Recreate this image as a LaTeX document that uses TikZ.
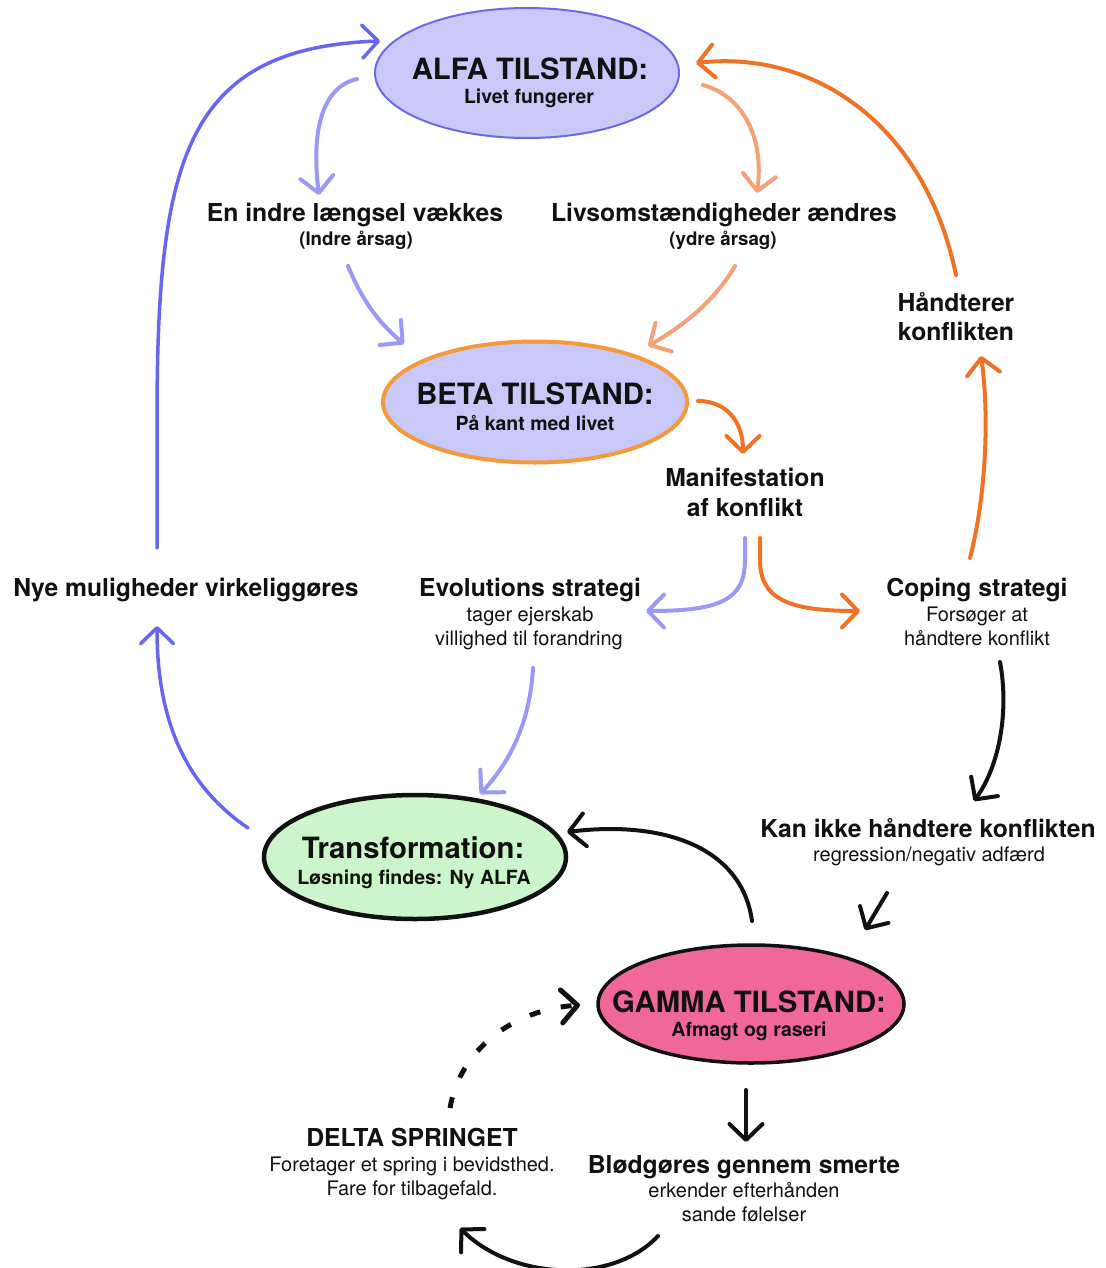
\documentclass[tikz,border=0pt]{standalone}
\usepackage{fontspec}
\setmainfont{TeX Gyre Heros}
\usetikzlibrary{arrows.meta,shapes.geometric}
\definecolor{lav}{HTML}{C9C9F9}
\definecolor{alfaB}{HTML}{6A6AE6}
\definecolor{bigblue}{HTML}{6666EE}
\definecolor{lightblue}{HTML}{9A9AF6}
\definecolor{salmon}{HTML}{F6A078}
\definecolor{orng}{HTML}{F07224}
\definecolor{betaB}{HTML}{F29A3C}
\definecolor{greenF}{HTML}{CDF5CB}
\definecolor{pinkF}{HTML}{F0689A}
\definecolor{ink}{HTML}{111111}
\begin{document}
\begin{tikzpicture}[x=1pt,y=-1pt,
  ttl/.style={font=\fontsize{29.3}{32}\selectfont\bfseries, anchor=base, inner sep=0pt, text=ink},
  bsub/.style={font=\fontsize{19.5}{22}\selectfont\bfseries, anchor=base, inner sep=0pt, text=ink},
  hd/.style={font=\fontsize{24.7}{28}\selectfont\bfseries, anchor=base, inner sep=0pt, text=ink},
  sub/.style={font=\fontsize{20}{24}\selectfont, anchor=base, inner sep=0pt, text=ink},
  state/.style={ellipse, inner sep=0pt},
  arr/.style={line width=4pt, line cap=round, -{Straight Barb[length=16pt,width=33pt,round]}},
]
\useasboundingbox (0,0) rectangle (1105,1268);

% ---- states
\node[state, draw=alfaB, fill=lav, line width=2pt, minimum width=304pt, minimum height=130pt] (alfa) at (527,73) {};
\node[ttl] (alfat) at (530,80) {ALFA TILSTAND:};
\node[bsub] (alfas) at (529,104) {Livet fungerer};

\node[state, draw=betaB, fill=lav, line width=4pt, minimum width=304pt, minimum height=121pt] (beta) at (535,402) {};
\node[ttl] (betat) at (535,404) {BETA TILSTAND:};
\node[bsub] (betas) at (535,430) {På kant med livet};

\node[state, draw=ink, fill=greenF, line width=4.5pt, minimum width=302pt, minimum height=124pt] (trans) at (415,857) {};
\node[ttl] (transt) at (413,858) {Transformation:};
\node[bsub] (transs) at (414,884) {Løsning findes: Ny ALFA};

\node[state, draw=ink, fill=pinkF, line width=3.5pt, minimum width=306pt, minimum height=118pt] (gamma) at (751,1004) {};
\node[ttl] (gammat) at (749,1012) {GAMMA TILSTAND:};
\node[bsub] (gammas) at (749,1036) {Afmagt og raseri};

% ---- labels
\node[hd] (indre) at (355,221) {En indre længsel vækkes};
\node[bsub,font=\fontsize{18.7}{22}\selectfont\bfseries] (indres) at (356,245) {(Indre årsag)};
\node[hd] (livs) at (724,221) {Livsomstændigheder ændres};
\node[bsub,font=\fontsize{18.7}{22}\selectfont\bfseries] (livss) at (723,245) {(ydre årsag)};
\node[hd] (haand1) at (956,311) {Håndterer};
\node[hd] (haand2) at (956,340) {konflikten};
\node[hd] (manif1) at (745,486) {Manifestation};
\node[hd] (manif2) at (745,516) {af konflikt};
\node[hd] (nye) at (186,596) {Nye muligheder virkeliggøres};
\node[hd] (evol) at (530,596) {Evolutions strategi};
\node[sub] (evol1) at (530,621) {tager ejerskab};
\node[sub] (evol2) at (529,645) {villighed til forandring};
\node[hd] (coping) at (977,596) {Coping strategi};
\node[sub] (coping1) at (977,621) {Forsøger at};
\node[sub] (coping2) at (977,645) {håndtere konflikt};
\node[hd] (kan) at (928,837) {Kan ikke håndtere konflikten};
\node[sub] (kans) at (929,861) {regression/negativ adfærd};
\node[hd] (delta) at (412,1146) {DELTA SPRINGET};
\node[sub] (delta1) at (412,1171) {Foretager et spring i bevidsthed.};
\node[sub] (delta2) at (412,1195) {Fare for tilbagefald.};
\node[hd] (blod) at (744,1173) {Blødgøres gennem smerte};
\node[sub] (blod1) at (744,1197) {erkender efterhånden};
\node[sub] (blod2) at (744,1221) {sande følelser};

% ---- connector end points
\coordinate (nyeTop) at (157,548);
\coordinate (nyeBot) at (157,626);
\coordinate (alfaIn) at (380,41);
\coordinate (transOut) at (248,828);
\coordinate (alfaL) at (357,79);
\coordinate (indreTop) at (319,195);
\coordinate (indreBot) at (348,266);
\coordinate (betaInL) at (404,344);
\coordinate (alfaR) at (703,85);
\coordinate (livsTop) at (757,193);
\coordinate (livsBot) at (735,266);
\coordinate (betaInR) at (648,346);
\coordinate (haandBot) at (956,275);
\coordinate (alfaInR) at (696,63);
\coordinate (copingTop) at (970,558);
\coordinate (haandIn) at (981,356);
\coordinate (betaR) at (698,401);
\coordinate (manifTop) at (743,454);
\coordinate (manifL) at (745,538);
\coordinate (manifR) at (760,538);
\coordinate (evolIn) at (646,611);
\coordinate (copingIn) at (860,611);
\coordinate (evolBot) at (533,668);
\coordinate (transIn) at (480,794);
\coordinate (copingBot) at (1000,662);
\coordinate (kanIn) at (974,801);
\coordinate (kanBot) at (887,893);
\coordinate (gammaIn) at (865,930);
\coordinate (gammaTop) at (752,921);
\coordinate (transInR) at (567,832);
\coordinate (gammaBot) at (746,1090);
\coordinate (blodIn) at (746,1142);
\coordinate (blodBot) at (658,1236);
\coordinate (deltaIn) at (460,1228);
\coordinate (deltaTop) at (450,1108);
\coordinate (gammaInL) at (580,1005);

% ---- connectors
\draw[arr, draw=bigblue, line width=3.5pt] (nyeTop) -- (157,420) .. controls (157,160) and (185,48) .. (alfaIn);
\draw[arr, draw=bigblue, line width=3.5pt] (transOut) .. controls (185,785) and (157,720) .. (nyeBot);
\draw[arr, draw=lightblue] (alfaL) .. controls (318,88) and (312,140) .. (indreTop);
\draw[arr, draw=lightblue] (indreBot) .. controls (362,300) and (378,322) .. (betaInL);
\draw[arr, draw=salmon] (alfaR) .. controls (745,97) and (764,140) .. (livsTop);
\draw[arr, draw=salmon] (livsBot) .. controls (715,300) and (685,325) .. (betaInR);
\draw[arr, draw=orng] (haandBot) .. controls (925,125) and (815,50) .. (alfaInR);
\draw[arr, draw=orng] (copingTop) .. controls (985,500) and (990,420) .. (haandIn);
\draw[arr, draw=orng] (betaR) .. controls (725,401) and (743,420) .. (manifTop);
\draw[arr, draw=lightblue] (manifL) -- (745,560) .. controls (745,600) and (720,611) .. (evolIn);
\draw[arr, draw=orng] (manifR) -- (760,560) .. controls (760,600) and (790,611) .. (copingIn);
\draw[arr, draw=lightblue] (evolBot) .. controls (530,720) and (512,760) .. (transIn);
\draw[arr, draw=ink] (copingBot) .. controls (1009,710) and (1000,765) .. (kanIn);
\draw[arr, draw=ink] (kanBot) -- (gammaIn);
\draw[arr, draw=ink] (gammaTop) .. controls (742,848) and (665,820) .. (transInR);
\draw[arr, draw=ink] (gammaBot) -- (blodIn);
\draw[arr, draw=ink] (blodBot) .. controls (612,1285) and (512,1280) .. (deltaIn);
\draw[arr, draw=ink, line width=5pt, line cap=butt, dash pattern=on 11pt off 21pt] (deltaTop) .. controls (460,1050) and (512,1010) .. (gammaInL);
\end{tikzpicture}
\end{document}
